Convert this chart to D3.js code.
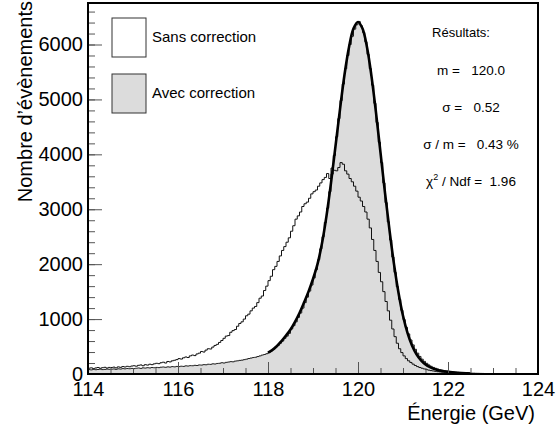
<!DOCTYPE html>
<html>
<head>
<meta charset="utf-8">
<script src="https://cdn.jsdelivr.net/npm/d3@7"></script>
<style>
  body { margin: 0; background: white; }
  svg text { font-family: "Liberation Sans", Arial, Helvetica, sans-serif; fill: black; white-space: pre; }
</style>
</head>
<body>
<svg id="chart" width="556" height="429"></svg>
<script>
(() => {

    // histogram range, 200 bins of 0.05 GeV
    const energy_min = 114;
    const energy_max = 124;
    const bin_width = 0.05;

    // "Sans correction" counts per bin (114.00 -> 123.95)
    const sans_counts = [
        105, 112, 98, 110, 118, 104, 115, 122, 108, 120,
        118, 125, 112, 130, 121, 135, 128, 140, 132, 145,
        150, 142, 158, 165, 150, 170, 162, 178, 170, 185,
        195, 188, 205, 215, 200, 228, 220, 240, 250, 262,
        280, 272, 295, 310, 300, 330, 345, 335, 365, 380,
        410, 400, 435, 460, 455, 490, 520, 540, 575, 610,
        650, 690, 700, 760, 790, 810, 870, 920, 950, 1000,
        1060, 1090, 1150, 1200, 1230, 1300, 1380, 1420, 1520, 1600,
        1700, 1780, 1900, 1960, 2050, 2150, 2250, 2320, 2400, 2480,
        2600, 2700, 2820, 2880, 2950, 3050, 3100, 3130, 3200, 3280,
        3320, 3350, 3420, 3480, 3540, 3580, 3650, 3560, 3750, 3710,
        3700, 3760, 3850, 3820, 3700, 3640, 3560, 3500, 3420, 3330,
        3220, 3150, 3050, 2950, 2820, 2660, 2450, 2250, 2050, 1850,
        1680, 1500, 1320, 1150, 980, 820, 680, 560, 460, 390,
        330, 280, 240, 210, 180, 155, 135, 118, 105, 92,
        80, 70, 62, 55, 48, 42, 38, 34, 30, 26,
        24, 21, 18, 16, 15, 13, 12, 10, 9, 8,
        8, 7, 6, 6, 5, 5, 4, 4, 4, 3,
        3, 3, 3, 2, 2, 2, 2, 2, 2, 2,
        2, 2, 1, 1, 1, 1, 1, 1, 1, 1
    ];

    // "Avec correction" counts per bin
    const avec_counts = [
        80, 75, 85, 78, 82, 88, 80, 84, 90, 86,
        88, 92, 85, 95, 90, 98, 94, 100, 96, 102,
        98, 105, 110, 102, 112, 108, 115, 110, 118, 114,
        120, 116, 124, 128, 122, 130, 126, 135, 130, 138,
        135, 142, 138, 148, 145, 152, 150, 158, 155, 165,
        162, 170, 168, 178, 175, 185, 182, 192, 195, 205,
        200, 212, 218, 225, 222, 235, 240, 248, 252, 262,
        270, 282, 290, 300, 305, 318, 330, 345, 355, 370,
        390, 420, 450, 490, 520, 560, 600, 650, 690, 740,
        820, 880, 950, 1030, 1110, 1200, 1300, 1400, 1510, 1620,
        1750, 1900, 2080, 2280, 2500, 2760, 3020, 3320, 3640, 3980,
        4320, 4650, 4980, 5280, 5560, 5800, 6000, 6150, 6280, 6360,
        6420, 6340, 6220, 6050, 5820, 5560, 5260, 4930, 4580, 4220,
        3850, 3480, 3120, 2770, 2440, 2130, 1850, 1590, 1360, 1160,
        990, 850, 730, 620, 530, 450, 380, 320, 270, 230,
        195, 165, 140, 120, 104, 90, 78, 68, 60, 53,
        47, 42, 37, 33, 30, 27, 24, 22, 20, 18,
        16, 15, 13, 12, 11, 10, 9, 8, 8, 7,
        7, 6, 6, 5, 5, 5, 4, 4, 4, 4,
        3, 3, 3, 3, 3, 2, 2, 2, 2, 2
    ];

    // fitted curve
    const fit_energy = [
        118.0, 118.1, 118.2, 118.3, 118.4, 118.5, 118.6, 118.7, 118.8, 118.9,
        119.0, 119.1, 119.2, 119.3, 119.4, 119.5, 119.6, 119.7, 119.8, 119.9,
        120.0, 120.1, 120.2, 120.3, 120.4, 120.5, 120.6, 120.7, 120.8, 120.9,
        121.0, 121.1, 121.2, 121.3, 121.4, 121.5, 121.6, 121.7, 121.8, 121.9,
        122.0, 122.1, 122.2, 122.3, 122.4, 122.5
    ];
    const fit_counts = [
        390, 440, 510, 600, 700, 810, 950, 1110, 1300, 1500,
        1730, 2000, 2380, 2880, 3480, 4150, 4820, 5450, 5950, 6290,
        6410, 6290, 5950, 5420, 4760, 4030, 3300, 2620, 2000, 1480,
        1060, 750, 520, 360, 250, 175, 125, 90, 65, 50,
        38, 29, 22, 17, 13, 10
    ];

    const x_major_ticks = [114, 116, 118, 120, 122, 124];
    const y_major_ticks = [0, 1000, 2000, 3000, 4000, 5000, 6000];
    const y_max = 6756;

    const legend_labels = ['Sans correction', 'Avec correction'];
    const stats_lines = ['m =   120.0', '\u03c3 =   0.52', '\u03c3 / m =   0.43 %'];

    // chart geometry
    const left = 88, right = 538, top = 3, bottom = 374;
    const fill_grey = '#dcdcdc';
    const label_size = '20px';

    let svg = d3.select('#chart');

    let x_scale = d3.scaleLinear().domain([energy_min, energy_max]).range([left, right]);
    let y_scale = d3.scaleLinear().domain([0, y_max]).range([bottom, top]);

    svg.append('defs').append('clipPath').attr('id', 'frame_clip')
        .append('rect')
        .attr('x', left).attr('y', top)
        .attr('width', right - left).attr('height', bottom - top);

    // bin edges with counts; repeat last count at the upper edge for the step curve
    let to_steps = (counts) => {
        let pts = counts.map((c, i) => ({ e: energy_min + i * bin_width, c: c }));
        pts.push({ e: energy_max, c: counts[counts.length - 1] });
        return pts;
    };

    let plot = svg.append('g').attr('clip-path', 'url(#frame_clip)');

    // filled histogram
    let area = d3.area()
        .curve(d3.curveStepAfter)
        .x((d) => x_scale(d.e))
        .y0(y_scale(0))
        .y1((d) => y_scale(d.c));

    let step_line = d3.line()
        .curve(d3.curveStepAfter)
        .x((d) => x_scale(d.e))
        .y((d) => y_scale(d.c));

    plot.append('path')
        .datum(to_steps(avec_counts))
        .attr('d', area)
        .attr('fill', fill_grey);

    plot.append('path')
        .datum(to_steps(avec_counts))
        .attr('d', step_line)
        .attr('fill', 'none')
        .attr('stroke', '#222')
        .attr('stroke-width', 1);

    // open histogram
    plot.append('path')
        .datum(to_steps(sans_counts))
        .attr('d', step_line)
        .attr('fill', 'none')
        .attr('stroke', '#111')
        .attr('stroke-width', 1);

    // fit curve
    let fit_line = d3.line()
        .curve(d3.curveCatmullRom)
        .x((d, i) => x_scale(fit_energy[i]))
        .y((d) => y_scale(d));

    plot.append('path')
        .datum(fit_counts)
        .attr('d', fit_line)
        .attr('fill', 'none')
        .attr('stroke', 'black')
        .attr('stroke-width', 2.6);

    // Y axis: major and minor ticks pointing inward
    let y_axis = d3.axisLeft(y_scale)
        .tickValues(y_major_ticks)
        .tickSize(-14)
        .tickPadding(5)
        .tickFormat(d3.format('d'));

    let y_minor = d3.axisLeft(y_scale)
        .tickValues(d3.range(0, y_max, 200))
        .tickSize(-7)
        .tickFormat('');

    svg.append('g').attr('transform', `translate(${left},0)`).call(y_minor)
        .call((g) => g.select('.domain').remove())
        .selectAll('line').attr('stroke', '#555');

    let yg = svg.append('g').attr('transform', `translate(${left},0)`).call(y_axis);
    yg.select('.domain').remove();
    yg.selectAll('line').attr('stroke', '#555');
    yg.selectAll('text').style('font-size', label_size).attr('fill', 'black');

    // X axis
    let x_axis = d3.axisBottom(x_scale)
        .tickValues(x_major_ticks)
        .tickSize(-12)
        .tickPadding(8)
        .tickFormat(d3.format('d'));

    let x_minor = d3.axisBottom(x_scale)
        .tickValues(d3.range(energy_min, energy_max, 0.5))
        .tickSize(-6)
        .tickFormat('');

    svg.append('g').attr('transform', `translate(0,${bottom})`).call(x_minor)
        .call((g) => g.select('.domain').remove())
        .selectAll('line').attr('stroke', '#555');

    let xg = svg.append('g').attr('transform', `translate(0,${bottom})`).call(x_axis);
    xg.select('.domain').remove();
    xg.selectAll('line').attr('stroke', '#555');
    xg.selectAll('text').style('font-size', label_size).attr('fill', 'black')
        .attr('dy', '0.72em');

    // frame
    svg.append('rect')
        .attr('x', left).attr('y', top)
        .attr('width', right - left).attr('height', bottom - top)
        .attr('fill', 'none')
        .attr('stroke', 'black')
        .attr('stroke-width', 2);

    // axis titles
    svg.append('text')
        .attr('transform', 'translate(32,1) rotate(-90)')
        .attr('text-anchor', 'end')
        .style('font-size', label_size)
        .text('Nombre d\u2019\u00e9v\u00e8nements');

    svg.append('text')
        .attr('x', 535)
        .attr('y', 420)
        .attr('text-anchor', 'end')
        .style('font-size', label_size)
        .text('\u00c9nergie (GeV)');

    // legend
    let legend = svg.append('g');
    legend.selectAll('rect')
        .data(legend_labels)
        .enter()
        .append('rect')
        .attr('x', 112)
        .attr('y', (d, i) => 18 + i * 56)
        .attr('width', 34)
        .attr('height', 39)
        .attr('fill', (d, i) => i == 0 ? 'white' : fill_grey)
        .attr('stroke', '#333')
        .attr('stroke-width', 1);

    legend.selectAll('text')
        .data(legend_labels)
        .enter()
        .append('text')
        .attr('x', 152)
        .attr('y', (d, i) => 42 + i * 56)
        .style('font-size', '15px')
        .text((d) => d);

    // fit results
    let stats = svg.append('g');
    stats.append('text')
        .attr('x', 461).attr('y', 37)
        .attr('text-anchor', 'middle')
        .style('font-size', '13px')
        .text('R\u00e9sultats:');

    stats.selectAll('.line')
        .data(stats_lines)
        .enter()
        .append('text')
        .attr('class', 'line')
        .attr('x', 471)
        .attr('y', (d, i) => 75 + i * 37)
        .attr('text-anchor', 'middle')
        .style('font-size', '13.5px')
        .text((d) => d);

    let chi = stats.append('text')
        .attr('x', 471).attr('y', 186)
        .attr('text-anchor', 'middle')
        .style('font-size', '13.5px');
    chi.append('tspan').text('\u03c7');
    chi.append('tspan').attr('dy', -6).style('font-size', '9px').text('2');
    chi.append('tspan').attr('dy', 6).text(' / Ndf =  1.96');

})();
</script>
</body>
</html>
